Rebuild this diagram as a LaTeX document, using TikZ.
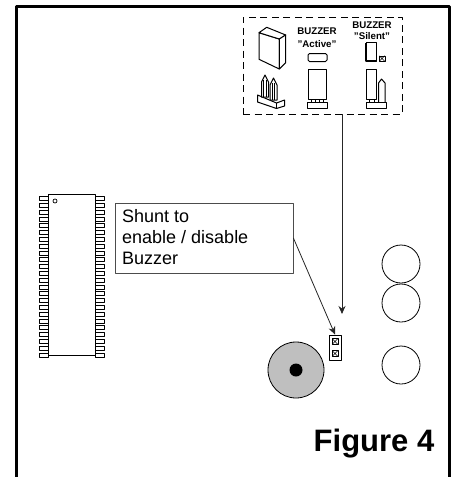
\documentclass[tikz,border=0pt]{standalone}
\usepackage{fontspec}
\setmainfont{Liberation Sans}
\usetikzlibrary{arrows.meta}
\tikzset{
	part/.style={draw,line width=1pt,fill=white},
	hole/.style={circle,draw,line width=0.8pt,minimum size=38pt,inner sep=0pt},
	jumper label/.style={font=\bfseries\fontsize{9.7}{10}\selectfont,inner sep=0pt},
	lead/.style={draw=black!85,line width=0.8pt,-{Stealth[length=8pt,width=7pt]}},
	pinbox/.style={draw,line width=0.5pt,fill=white,minimum size=6pt,inner sep=0pt,path picture={\draw[line width=0.4pt] (path picture bounding box.south west)--(path picture bounding box.north east) (path picture bounding box.north west)--(path picture bounding box.south east);}}
}
\begin{document}
\begin{tikzpicture}[x=1pt,y=-1pt,line join=round,line cap=butt]
		\useasboundingbox (0,0) rectangle (456,477);
		% frame
		\draw[line width=3.2pt] (16.5,477)--(16.5,6.5)--(449.5,6.5)--(449.5,477);
		% chip
		\foreach \i in {0,...,23}{
			\draw[line width=0.7pt] (39.5,196.5+6.8*\i) rectangle (48,200.5+6.8*\i);
			\draw[line width=0.7pt] (95,196.5+6.8*\i) rectangle (104,200.5+6.8*\i);
		}
		\node[draw,line width=0.8pt,minimum width=47pt,minimum height=161pt,inner sep=0pt] (chip) at (71.5,274.5) {};
		\draw[line width=0.7pt] (55,201) circle(2pt);
		% shunt label
		\node[draw=black!70,line width=0.8pt,minimum width=178pt,minimum height=70pt,inner sep=0pt] (shuntbox) at (204,238) {};
		\node[anchor=west,align=left,inner sep=0pt,font=\fontsize{18}{21}\selectfont] (shunttext) at (122,237) {Shunt to\\enable / disable\\Buzzer};
		% buzzer and holes
		\node[circle,draw,line width=0.8pt,fill=black!25,minimum size=56pt,inner sep=0pt] (buzzer) at (296,370) {};
		\node[circle,fill=black,minimum size=13pt,inner sep=0pt] (buzzerdot) at (buzzer.center) {};
		\node[hole] (holea) at (401,264) {};
		\node[hole] (holeb) at (401,303) {};
		\node[hole] (holec) at (401,365) {};
		% jumper on the board
		\node[draw,line width=0.9pt,minimum width=12pt,minimum height=25pt,inner sep=0pt] (jumper) at (335,347.5) {};
		\node[pinbox] (pina) at (335,341.5) {};
		\node[pinbox] (pinb) at (335,353.5) {};
		% detail box
		\node[draw,dash pattern=on 7pt off 4.5pt,line width=0.8pt,minimum width=159pt,minimum height=97pt,inner sep=0pt] (detail) at (322.5,65.5) {};
		\coordinate (detailend) at (342,314);
		\draw[lead] (shuntbox.east)--(jumper.north);
		\draw[lead] (detail.south -| detailend)--(detailend);
		% shunt drawing
		\draw[part] (259,32.7)--(279.3,39)--(279.3,69)--(259,59.3)--cycle;
		\draw[part] (259,32.7)--(266.7,27.3)--(285.7,35)--(279.3,39)--cycle;
		\draw[part] (279.3,39)--(285.7,35)--(285.7,62.7)--(279.3,69)--cycle;
		% header drawing
		\draw[part] (257.5,95)--(276.5,103)--(284.5,100)--(284.5,106)--(276.5,108.5)--(257.5,102)--cycle;
		\draw[part] (276.5,103)--(276.5,108.5);
		\foreach \x/\y in {265/0,273.5/3}{
			\draw[part] (\x-3.5,\y+82)--(\x,\y+75)--(\x+3.5,\y+82)--(\x+3.5,\y+97)--(\x-3.5,\y+97)--cycle;
			\draw[line width=0.8pt] (\x-1.2,\y+80)--(\x-1.2,\y+97) (\x+1.2,\y+80)--(\x+1.2,\y+97);
		}
		% active
		\node[jumper label] (activetop) at (317,31) {BUZZER};
		\node[jumper label] (activename) at (317,44) {"Active"};
		\draw[part,rounded corners=1.5pt] (308,53.5) rectangle (327,61.5);
		\draw[part] (308,69) rectangle (326.5,99);
		\draw[part] (311,99) rectangle (315,102.5);
		\draw[part] (319,99) rectangle (323,102.5);
		\draw[part] (307,102.5) rectangle (327.5,108.5);
		% silent
		\node[jumper label] (silenttop) at (372,25) {BUZZER};
		\node[jumper label] (silentname) at (372,36) {"Silent"};
		\draw[part] (366,42.5) rectangle (376,61);
		\draw[line width=1.3pt] (366,42.5)--(366,61)--(376,61);
		\node[pinbox,minimum size=5.5pt] (silentpin) at (382,58.5) {};
		\draw[part] (366.5,69.5) rectangle (376,99);
		\draw[part] (369,99) rectangle (374,102.5);
		\draw[part] (378.5,83)--(381.5,79)--(385,83)--(385,102.5)--(378.5,102.5)--cycle;
		\draw[part] (366,102.5) rectangle (386,108.5);
		% title
		\node[anchor=center,inner sep=0pt,font=\bfseries\fontsize{31}{34}\selectfont] (title) at (374,444) {Figure 4};
\end{tikzpicture}
\end{document}
